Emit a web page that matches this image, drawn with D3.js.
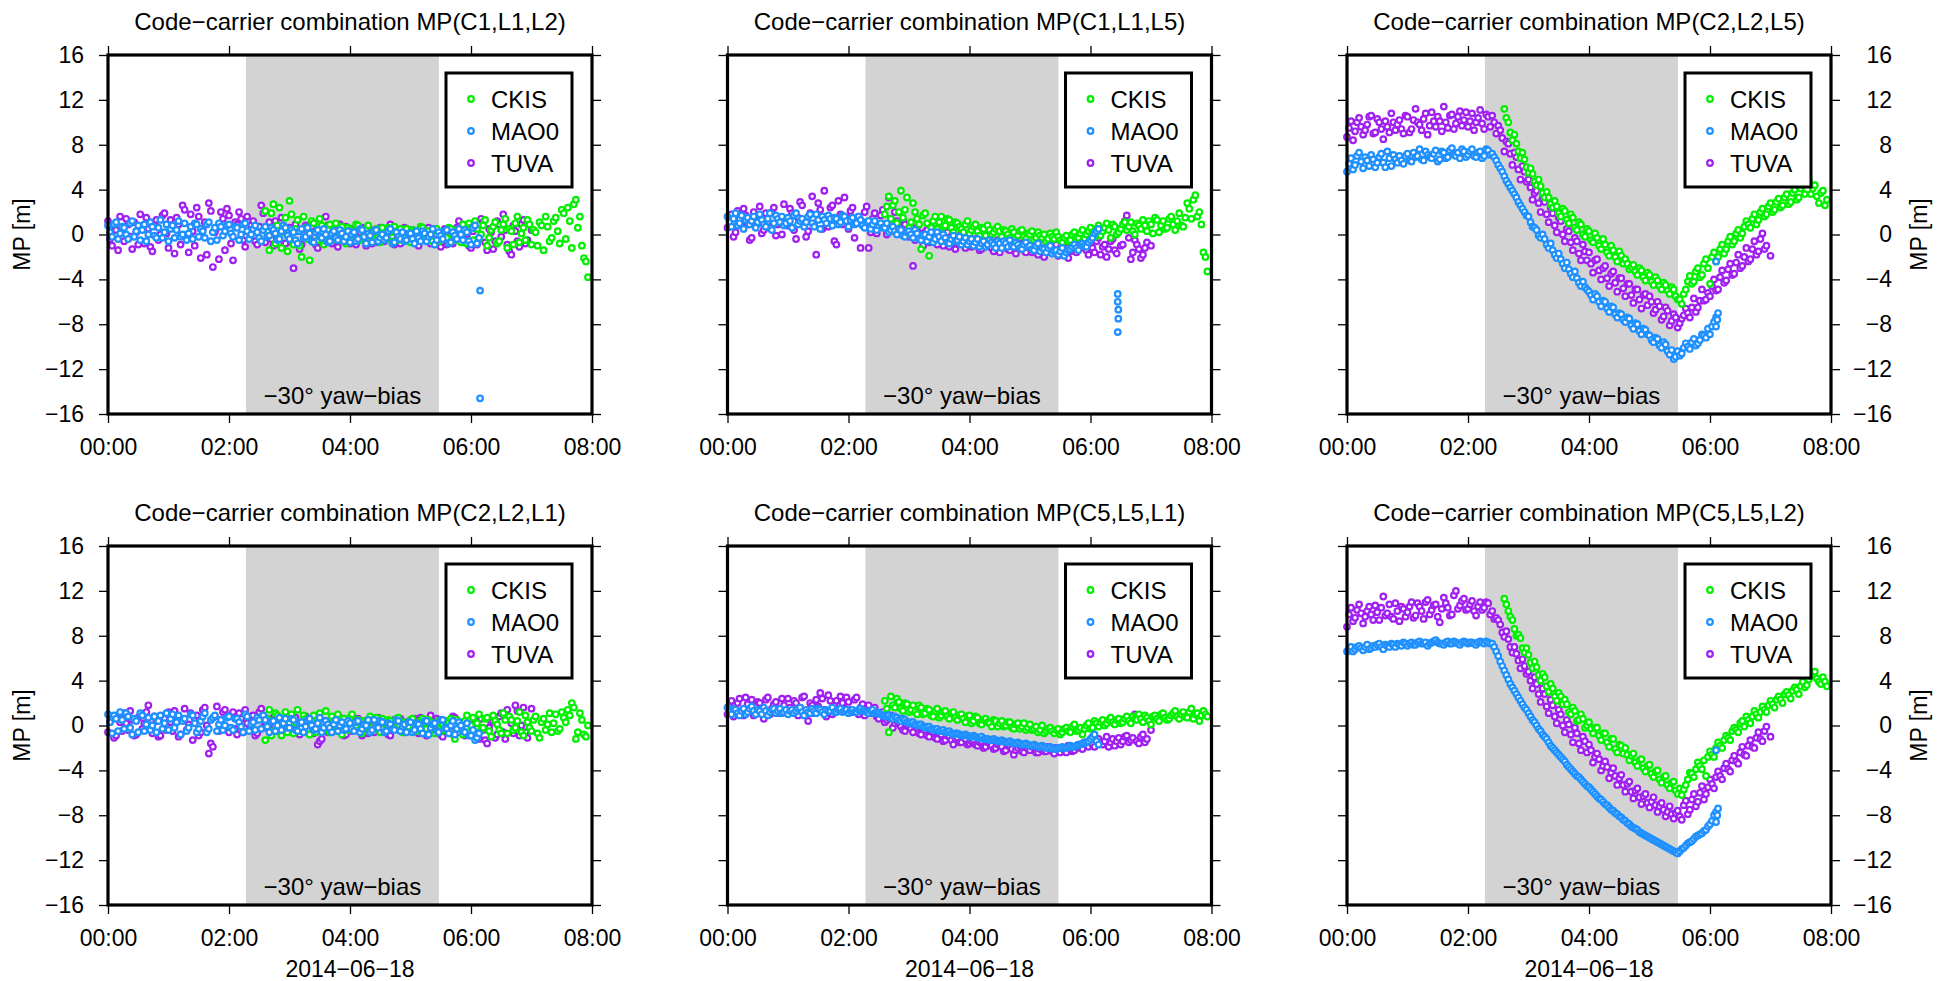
<!DOCTYPE html>
<html>
<head>
<meta charset="utf-8">
<script src="https://cdn.jsdelivr.net/npm/d3@7"></script>
<style>
  body { margin: 0; background: #fff; }
  svg text { font-family: "Liberation Sans", Arial, Helvetica, sans-serif; fill: #000; }
</style>
</head>
<body>
<svg id="chart" width="1945" height="981"></svg>
<script>
const stations = ["CKIS", "MAO0", "TUVA"];
const stationColors = ["#00f000", "#1e90ff", "#a020f0"];
const combos = ["MP(C1,L1,L2)", "MP(C1,L1,L5)", "MP(C2,L2,L5)", "MP(C2,L2,L1)", "MP(C5,L5,L1)", "MP(C5,L5,L2)"];
const stepMinutes = 4;      // spacing inside each array
const halfStepMinutes = 2;  // the "b" arrays sit between the "a" epochs
const ckisStartHour = 2.6;
const mao0StartHour = 0;
const tuvaStartHour = 0;
const yawBiasHours = [2.28, 5.47];
const yTicks = [-16, -12, -8, -4, 0, 4, 8, 12, 16];
const xTickHours = [0, 2, 4, 6, 8];
const dateLabel = "2014\u221206\u221218";

// MP values in metres. "a": epochs start + 4 min * i, "b": start + 2 min + 4 min * i
// --- MP(C1,L1,L2)
const ckis_C1L1L2_a = [2.1,-1.4,2.7,0.8,-1.2,1.5,3.0,-0.9,1.3,-2.0,0.6,-2.3,1.0,-0.5,0.8,
  -0.6,0.9,0.2,-0.4,0.7,-0.8,0.4,0.0,0.8,-0.3,0.5,-0.6,0.3,-0.2,0.6,
  -0.4,0.2,0.7,-0.5,0.1,0.5,-0.7,0.3,-0.2,0.6,-0.4,0.0,0.4,-0.6,0.2,
  -0.3,0.5,-0.5,0.3,0.9,-0.8,0.6,1.2,-0.4,0.8,-1.0,0.4,1.1,-0.6,0.9,
  -1.2,0.3,1.0,-0.7,0.6,1.3,-0.9,0.2,1.1,-1.4,0.7,-0.3,1.5,-0.8,1.9,
  2.4,-1.2,3.1,1.6,-2.1,-3.8];
const ckis_C1L1L2_b = [0.3,1.9,-0.8,2.4,0.2,-1.5,1.8,0.5,-1.0,1.6,-0.4,1.2,0.2,1.4,-0.9,
  0.4,-0.5,1.0,0.1,-0.6,0.6,-0.2,0.9,-0.5,0.3,0.8,-0.1,0.5,-0.7,0.1,
  0.6,-0.6,0.3,0.5,-0.3,0.0,0.4,-0.5,0.7,-0.1,0.3,-0.6,0.5,0.1,-0.4,
  0.6,0.0,0.4,-0.7,0.2,1.0,-0.5,0.5,0.0,1.3,-0.3,0.7,-0.8,0.4,1.4,
  0.5,-0.9,1.6,0.1,-0.5,0.9,0.4,-1.0,0.8,1.6,-0.6,1.2,0.3,2.2,-0.4,
  1.2,2.7,0.6,-1.0,-2.4];
const mao0_C1L1L2_a = [0.8,-0.2,1.1,0.1,0.6,-0.4,1.2,0.3,-0.5,0.9,0.0,0.7,-0.3,1.3,0.2,
  -0.6,0.8,0.4,-0.2,1.0,0.1,-0.4,0.9,0.5,-0.3,1.1,0.2,-0.5,0.7,0.3,
  0.9,-0.2,0.6,0.0,1.0,-0.4,0.5,0.2,-0.6,0.7,-0.1,0.4,-0.5,0.3,0.6,
  -0.4,0.2,-0.8,0.5,-0.2,0.1,-0.7,0.4,-0.3,0.0,-0.6,0.3,-0.5,0.1,-0.2,
  -0.7,0.2,-0.4,0.4,-0.8,-0.1,0.3,-0.6,0.0,-0.3,0.5,-0.7,-0.2,0.2,-0.5,
  0.1,-0.8,-0.3,0.3,-0.6,0.0,-0.9,0.2,-0.4,0.4,-0.7,-0.1,0.5,-0.5,0.2,
  -0.9,0.8,-0.3];
const mao0_C1L1L2_b = [0.2,0.9,-0.4,0.7,0.0,1.0,-0.2,0.8,0.4,-0.6,1.1,-0.1,0.6,-0.3,0.9,
  0.5,-0.3,1.2,0.0,-0.5,0.7,1.0,-0.2,0.3,0.9,-0.6,0.6,1.0,-0.1,0.8,
  0.1,0.7,-0.5,0.9,0.3,0.0,0.8,-0.3,0.4,-0.2,0.6,0.1,-0.4,0.8,-0.1,
  0.4,-0.5,0.3,-0.3,0.6,-0.6,0.2,-0.2,0.5,-0.7,0.1,-0.3,0.4,-0.6,0.3,
  0.0,-0.6,0.5,-0.2,0.1,-0.7,0.4,-0.3,-0.5,0.3,-0.8,0.2,-0.4,-0.6,0.1,
  -0.4,0.3,-0.6,0.1,-0.2,0.5,-0.5,-0.1,0.3,-0.8,0.2,-0.4,0.0,0.4,-0.6,
  0.6,-0.8];
const tuva_C1L1L2_a = [1.2,-1.0,0.4,1.6,-0.6,0.9,-1.3,0.2,1.8,-0.8,0.5,-1.5,1.3,0.0,1.9,
  -1.2,0.7,1.5,-0.9,2.2,-1.6,0.3,2.4,-2.1,1.1,2.8,-2.9,0.6,2.0,-1.4,
  1.7,-2.3,0.9,1.4,-1.1,0.2,1.2,-0.9,2.6,-0.7,1.1,-1.0,0.4,1.5,-0.8,
  0.6,-3.0,0.3,-0.9,0.8,-0.4,1.0,-1.2,0.2,1.6,-0.6,0.5,-1.1,0.1,0.7,
  -0.8,0.3,-0.5,0.6,-1.0,0.0,0.4,-0.7,0.2,-0.3,0.9,-0.9,0.1,-0.4,0.5,
  -0.6,0.2,-1.0,0.4,-0.2,-0.8,0.5,-0.5,0.1,-0.9,0.3,-0.4,1.2,-0.7,0.0,
  -1.2,0.6,-0.3,1.1,-1.4,0.2,-0.6,0.9,1.8,-0.9,-1.8,0.3,-1.1,1.3,-0.5,
  0.4];
const tuva_C1L1L2_b = [-0.4,0.8,-1.4,0.3,1.4,-0.2,1.1,-0.9,0.6,1.5,-1.1,0.9,-0.5,1.7,0.1,
  1.3,-1.7,0.9,2.6,-0.3,1.8,-1.0,1.6,0.5,-1.8,2.1,0.2,-2.2,1.4,2.3,
  -0.8,1.1,2.0,-0.5,1.6,0.8,-0.6,0.7,1.9,0.3,-0.4,1.2,-0.9,0.6,0.2,
  -0.7,0.9,-1.3,0.5,-0.2,0.7,-0.9,0.4,-0.5,0.8,-0.8,0.3,0.9,-0.5,-0.1,
  0.5,-0.9,0.2,-0.3,0.7,-0.8,0.3,0.6,-0.6,0.4,-0.2,0.3,-0.8,0.6,-0.3,
  0.4,-0.7,0.3,-0.5,0.6,-0.3,0.0,-1.1,0.5,-0.2,-0.8,0.6,-0.3,0.5,-1.0,
  0.3,-0.9,1.4,-0.7,0.5,-1.3,1.2,-0.2,0.4,-1.5,0.8,-0.6,0.9,-0.8];

// --- MP(C1,L1,L5)
const ckis_C1L1L5_a = [1.8,3.4,2.6,1.0,3.9,2.2,0.6,2.8,1.4,-1.3,1.9,-1.9,1.2,0.5,1.6,
  0.8,1.3,0.2,1.0,0.5,0.9,0.1,0.7,0.3,0.6,-0.1,0.4,0.2,0.7,-0.2,
  0.3,-0.3,0.2,-0.1,0.4,-0.4,0.0,-0.5,0.2,-0.3,-0.6,0.1,-0.4,-0.2,-0.7,
  -0.1,-0.5,0.2,-0.3,0.4,0.0,0.6,-0.2,0.8,0.3,1.0,-0.3,0.7,0.2,0.9,
  0.4,1.1,0.0,0.8,1.3,0.3,0.9,1.5,0.2,1.2,0.6,1.6,0.4,1.9,0.7,
  2.8,1.4,3.5,2.0,-1.6,-3.3];
const ckis_C1L1L5_b = [2.5,1.4,3.0,2.0,1.5,3.3,1.1,2.0,0.9,1.7,1.0,0.6,1.6,1.1,0.7,
  1.4,0.6,1.1,0.7,0.2,1.2,0.4,0.9,-0.1,0.5,0.8,0.0,0.5,0.3,0.4,
  0.0,0.5,-0.4,0.3,-0.2,0.1,0.3,-0.3,-0.1,0.0,-0.4,-0.2,0.2,-0.5,-0.3,
  -0.6,0.0,-0.2,0.1,-0.4,0.3,0.2,0.5,-0.1,0.6,0.4,0.9,0.0,0.5,1.1,
  0.7,0.3,1.0,0.5,0.8,1.2,0.1,1.3,0.8,0.5,1.4,0.9,1.2,0.8,1.5,
  2.3,3.1,1.6,0.9,-2.0];
const mao0_C1L1L5_a = [1.6,0.7,1.9,1.0,0.5,1.5,1.2,0.6,1.8,0.9,1.4,0.4,1.7,1.1,0.8,
  1.5,0.6,1.9,1.2,0.7,1.6,1.0,1.8,0.5,1.3,1.7,0.8,1.4,1.1,1.6,
  0.7,1.5,1.0,1.3,0.6,1.2,0.9,0.4,1.0,0.6,0.2,0.7,0.0,0.4,-0.2,
  0.3,-0.3,0.1,-0.5,0.0,-0.2,-0.7,0.2,-0.6,-0.3,-0.8,-0.1,-0.5,-0.9,-0.3,
  -0.6,-1.0,-0.4,-0.8,-1.1,-0.5,-0.9,-0.6,-1.2,-0.8,-0.5,-1.1,-0.9,-1.3,-0.7,
  -1.0,-1.4,-0.8,-1.2,-1.6,-1.0,-1.5,-1.8,-1.2,-1.6,-1.3,-0.9,-1.4,-0.8,-1.1,
  -0.5,0.1,0.5];
const mao0_C1L1L5_b = [1.1,1.4,0.8,1.7,1.3,0.9,1.6,1.1,1.3,0.7,1.9,1.0,1.4,1.6,1.0,
  1.2,1.7,0.9,1.4,1.1,1.8,0.7,1.3,1.6,1.0,1.4,1.5,0.9,1.7,1.2,
  1.3,0.9,1.6,0.8,1.1,0.5,1.2,0.8,0.6,1.0,0.4,0.3,0.5,-0.1,0.2,
  0.0,0.4,-0.4,-0.1,-0.6,0.2,-0.4,-0.2,0.0,-0.7,-0.4,-0.6,-0.2,-0.6,-0.9,
  -0.4,-0.7,-1.1,-0.6,-0.9,-0.7,-1.2,-0.8,-0.6,-1.1,-1.0,-0.7,-1.2,-0.9,-1.1,
  -1.3,-1.0,-1.5,-1.3,-1.2,-1.7,-1.4,-1.5,-1.9,-1.4,-1.1,-1.2,-0.9,-1.0,-0.7,
  -0.3,0.3];
const tuva_C1L1L5_a = [0.6,1.8,0.2,1.4,2.3,0.9,-0.3,1.6,2.5,0.4,1.1,2.0,-0.1,1.5,2.7,
  0.8,1.9,-0.4,2.9,1.2,0.3,3.4,-1.8,2.2,3.9,0.7,2.6,-0.9,1.8,3.3,
  0.5,2.4,1.0,-1.2,2.0,-1.2,1.4,0.1,1.7,0.9,3.3,0.3,1.2,0.5,0.9,
  -0.2,-2.8,0.6,-0.4,0.2,-0.7,0.5,-0.9,0.0,-0.5,-1.1,-0.2,-0.8,0.1,-1.2,
  -0.6,-1.0,-0.3,-1.3,-0.7,-0.9,-1.5,-0.5,-1.1,-0.8,-1.4,-0.6,-1.2,-0.9,-1.6,
  -1.0,-1.4,-1.8,-0.9,-1.3,-1.6,-1.1,-1.9,-1.2,-0.7,-1.5,-0.4,-1.0,0.3,-1.4,
  -0.8,-1.6,-0.3,-1.1,-2.0,-0.6,-1.4,0.5,-0.9,1.7,-2.2,-0.5,-1.3,-1.8,-0.7,
  -1.0];
const tuva_C1L1L5_b = [1.3,-0.2,2.1,0.8,1.7,-0.5,2.0,1.0,0.1,1.9,0.6,2.4,0.9,0.0,1.2,
  2.3,0.4,1.5,2.6,-0.2,1.9,1.0,2.8,0.5,1.6,2.4,-0.6,3.0,0.9,1.5,
  2.1,-0.3,1.6,0.9,2.5,0.2,1.9,0.8,2.2,0.0,1.4,2.0,0.7,1.3,-0.1,
  0.7,-0.5,0.1,-1.0,0.4,-0.6,0.0,-0.3,-1.0,0.2,-0.7,-1.3,-0.4,-0.9,-0.2,
  -1.1,-0.5,-1.4,-0.8,-0.4,-1.2,-0.9,-1.6,-0.7,-1.3,-1.0,-1.7,-0.8,-1.4,-1.1,
  -1.6,-1.1,-1.4,-2.0,-1.2,-1.5,-0.9,-1.7,-1.4,-2.1,-1.1,-1.6,-0.8,-1.2,-1.8,
  -1.2,-0.6,-1.8,-0.9,-1.3,-0.4,-1.7,-1.0,1.2,-0.3,-1.6,-0.9,-2.1,-1.2];

// --- MP(C2,L2,L5)
const ckis_C2L2L5_a = [11.2,10.0,8.4,8.1,6.8,6.7,5.5,5.4,4.4,4.3,3.3,3.3,2.4,2.5,1.6,
  2.1,1.0,1.5,0.4,0.9,-0.2,0.3,-0.7,-0.3,-1.3,-0.9,-1.9,-1.4,-2.4,-1.9,
  -2.2,-3.1,-2.7,-3.6,-3.2,-4.1,-3.6,-4.5,-4.1,-4.9,-4.5,-5.3,-4.9,-5.8,-6.2,
  -4.9,-3.7,-4.2,-3.0,-3.6,-2.2,-4.4,-1.6,-2.0,-0.9,-1.3,-0.2,-0.6,0.4,0.1,
  1.2,0.6,1.8,1.3,2.3,1.8,2.8,2.2,3.2,2.6,3.6,2.9,4.0,3.3,4.4,
  5.3,3.6,4.4,2.8,3.9,3.1];
const ckis_C2L2L5_b = [10.4,9.1,8.9,7.4,7.3,6.0,5.9,4.7,4.9,3.7,3.8,2.7,3.0,1.9,2.3,
  1.3,1.8,0.6,1.1,0.0,0.5,-0.5,0.1,-1.0,-0.4,-1.6,-1.0,-2.0,-1.5,-2.6,
  -2.6,-2.9,-3.3,-3.0,-3.8,-3.4,-4.2,-3.8,-4.6,-4.3,-5.0,-4.7,-5.5,-5.8,-5.3,
  -4.2,-4.4,-3.3,-3.8,-2.6,-3.0,-2.0,-2.4,-1.3,-1.7,-0.6,-0.9,0.1,-0.3,0.7,
  0.9,1.4,0.9,2.0,1.6,2.5,2.0,2.9,2.4,3.3,2.7,3.7,3.1,4.1,3.6,
  4.8,4.1,3.4,3.7,2.6];
const mao0_C2L2L5_a = [5.6,6.8,6.2,7.3,5.9,6.6,7.1,6.0,6.9,6.4,7.4,6.1,6.7,7.0,6.3,
  7.2,6.5,6.9,7.6,6.6,7.1,6.8,7.5,6.7,7.3,6.9,7.7,7.0,6.8,7.4,
  7.1,7.6,6.9,7.4,7.0,7.5,7.2,6.6,5.9,5.2,4.5,3.9,3.3,2.6,2.0,
  1.6,0.7,0.4,-0.3,-0.4,-1.2,-1.4,-2.1,-2.2,-3.0,-3.1,-3.8,-3.9,-4.6,-4.7,
  -5.1,-5.8,-5.5,-6.4,-6.0,-6.9,-6.5,-7.4,-7.1,-7.8,-7.5,-8.4,-8.0,-8.9,-8.5,
  -9.0,-9.6,-9.3,-10.1,-9.8,-10.7,-11.1,-10.4,-10.6,-9.7,-10.2,-9.3,-9.7,-8.9,-9.2,
  -8.9,-7.8,-7.0];
const mao0_C2L2L5_b = [6.3,5.8,7.0,6.5,6.9,6.1,6.7,6.4,7.2,6.0,6.8,7.1,6.4,6.6,7.0,
  6.6,7.3,7.0,6.7,7.4,6.9,7.2,6.5,7.4,6.8,7.5,7.1,7.3,7.6,6.9,
  7.4,7.0,7.3,6.8,7.6,7.1,6.9,6.2,5.6,4.8,4.2,3.6,2.9,2.3,1.7,
  1.1,0.6,-0.1,0.0,-0.9,-0.8,-1.8,-1.7,-2.6,-2.5,-3.5,-3.3,-4.3,-4.2,-4.9,
  -5.4,-5.3,-6.0,-5.9,-6.6,-6.4,-7.1,-7.0,-7.6,-7.4,-8.1,-7.9,-8.6,-8.4,-8.9,
  -9.4,-9.2,-9.9,-9.6,-10.4,-10.3,-10.9,-10.8,-10.1,-10.0,-9.6,-9.9,-9.4,-9.0,-8.4,
  -8.2,-7.4];
const tuva_C2L2L5_a = [8.7,10.1,9.2,10.4,8.9,9.8,10.6,9.1,10.0,8.5,9.6,10.8,9.3,10.2,9.0,
  10.5,9.4,11.2,9.8,10.3,8.9,10.9,9.6,10.1,11.4,9.5,10.7,9.9,11.0,10.2,
  9.6,10.8,10.0,11.1,9.4,10.5,10.6,9.0,9.3,7.4,8.1,6.2,6.9,4.9,5.6,
  4.9,3.1,3.9,2.0,2.9,1.1,1.9,0.2,1.2,-0.6,0.3,-1.4,-0.6,-2.3,-1.5,
  -1.6,-3.4,-2.2,-4.0,-2.8,-4.6,-3.3,-5.1,-3.9,-5.5,-4.4,-6.1,-4.9,-6.6,-5.3,
  -5.5,-7.0,-6.0,-7.6,-6.5,-8.1,-7.1,-8.3,-7.5,-6.6,-7.4,-5.7,-6.5,-4.9,-5.8,
  -5.5,-4.0,-4.9,-3.2,-4.1,-2.6,-3.5,-1.8,-2.8,-1.2,-2.2,-0.6,-1.5,0.1,-1.0,
  -1.9];
const tuva_C2L2L5_b = [9.5,8.4,10.0,9.6,9.3,10.5,9.0,10.3,9.4,10.1,9.1,10.0,9.8,9.4,10.6,
  9.1,10.2,10.0,9.3,10.8,9.7,10.1,10.5,9.2,10.0,10.6,9.4,10.5,9.7,10.9,
  10.1,9.3,10.4,9.9,10.7,9.6,10.0,9.7,8.6,8.3,7.2,7.3,5.8,6.1,4.7,
  4.2,3.7,2.8,3.2,1.8,2.4,0.8,1.5,0.0,0.5,-0.7,-0.3,-1.7,-0.9,-2.3,
  -2.6,-2.3,-3.2,-3.0,-3.9,-3.5,-4.3,-3.9,-4.8,-4.4,-5.4,-4.9,-5.8,-5.4,-6.3,
  -6.0,-6.7,-6.4,-7.3,-6.8,-7.7,-7.4,-7.9,-7.2,-7.0,-6.5,-6.9,-5.9,-5.9,-5.2,
  -4.6,-5.0,-3.8,-4.3,-3.1,-3.6,-2.5,-3.0,-2.0,-2.4,-1.3,-1.8,-0.4,-1.3];

// --- MP(C2,L2,L1)
const ckis_C2L2L1_a = [-1.3,1.4,-0.5,0.9,-0.9,1.2,0.2,-0.7,1.4,-0.2,0.6,-0.8,0.9,0.0,-0.4,
  1.3,-0.6,0.4,1.0,-0.8,0.2,0.7,-0.4,0.5,-0.7,0.3,0.8,-0.3,0.1,0.6,
  -0.5,0.4,-0.2,0.7,-0.6,0.2,0.5,-0.4,0.1,0.6,-0.3,0.3,-0.7,0.4,0.0,
  -0.5,0.6,-1.2,0.2,-0.8,0.9,0.0,-0.6,1.0,-0.2,0.7,-1.0,0.4,-0.4,1.1,
  -0.7,0.5,-0.2,1.2,-0.9,0.3,-0.5,0.8,-1.1,0.6,0.1,-0.6,1.0,-0.3,0.7,
  1.4,2.0,-1.2,1.1,-0.8,0.0];
const ckis_C2L2L1_b = [0.6,-0.9,1.1,-0.2,0.5,-0.6,1.0,0.3,-0.5,0.9,-0.3,0.5,-0.6,1.1,0.2,
  -0.3,0.8,-0.5,0.3,0.6,-0.4,1.0,0.0,-0.5,0.4,-0.2,0.5,0.7,-0.6,0.2,
  0.5,-0.2,0.6,-0.4,0.3,-0.1,0.6,-0.5,0.4,-0.2,0.5,-0.4,0.2,-0.5,0.4,
  0.3,-0.8,0.5,-0.3,0.4,-0.6,0.7,0.2,-0.4,0.6,-0.5,0.9,0.1,-0.7,0.5,
  0.8,-0.4,0.4,-0.6,0.9,-0.2,0.5,-0.7,0.3,-0.4,1.1,0.2,-0.5,1.2,0.3,
  0.9,1.6,-0.6,0.5,-1.0];
const mao0_C2L2L1_a = [1.0,-0.7,0.6,1.2,-0.3,0.8,-0.8,0.4,1.1,-0.5,0.7,0.0,-0.6,0.9,0.2,
  -0.4,1.0,0.3,-0.8,0.6,-0.2,0.9,-0.6,0.4,1.1,-0.3,0.7,-0.5,0.5,0.0,
  0.8,-0.4,0.6,-0.1,1.0,-0.5,0.3,0.7,-0.3,0.5,-0.6,0.4,0.0,-0.4,0.6,
  -0.2,0.5,-0.5,0.3,-0.1,0.6,-0.4,0.2,-0.6,0.4,-0.2,0.1,-0.5,0.3,-0.3,
  0.2,-0.5,0.4,-0.3,0.0,-0.6,0.5,-0.2,0.3,-0.5,0.1,-0.4,0.4,-0.1,-0.6,
  0.3,-0.4,0.1,-0.7,0.4,-0.2,0.2,-0.6,0.5,-0.3,0.0,-0.8,0.3,-0.5,0.2,
  -0.9,-1.3,-0.7];
const mao0_C2L2L1_b = [0.3,0.9,-0.5,0.5,1.1,-0.2,0.6,-0.6,0.9,0.1,-0.4,0.8,0.4,-0.3,1.1,
  0.6,-0.2,0.9,0.4,-0.5,1.0,0.2,-0.3,0.8,-0.6,0.5,0.9,0.1,-0.4,0.7,
  -0.2,0.6,0.3,-0.6,0.8,0.1,-0.4,0.5,0.9,-0.1,0.3,-0.5,0.7,0.2,-0.2,
  0.6,-0.4,0.2,-0.6,0.5,0.0,-0.3,0.7,-0.2,0.1,-0.6,0.5,0.0,-0.4,0.4,
  -0.3,0.3,-0.6,0.1,0.5,-0.4,-0.1,0.4,-0.6,0.2,-0.3,0.5,-0.5,0.1,0.3,
  -0.6,0.2,-0.3,0.4,-0.8,0.1,-0.5,0.5,-0.2,-0.7,0.4,-0.3,0.0,-0.6,-0.9,
  -0.4,-1.1];
const tuva_C2L2L1_a = [-0.6,0.7,-0.9,0.3,1.1,-0.4,0.5,-0.8,0.9,0.2,1.8,-0.7,0.4,-0.9,0.6,
  1.2,-0.5,0.8,-0.8,1.5,0.1,-1.3,0.9,-0.6,1.6,-2.5,-1.9,1.7,0.5,1.4,
  -0.6,1.2,-0.8,0.6,1.4,-0.4,0.9,-0.7,1.5,0.3,-0.2,0.7,-0.5,0.4,-0.3,
  0.5,-0.6,0.2,-0.4,0.8,0.0,-0.7,-1.7,-1.2,0.4,-0.3,0.6,-0.5,0.1,-0.8,
  0.3,-0.4,0.6,-0.9,-0.2,0.4,-0.6,0.7,-0.3,0.2,-0.9,0.5,0.0,-0.5,0.3,
  -0.4,0.6,-0.7,0.2,-0.9,0.9,-0.3,0.4,-1.0,0.1,-0.5,0.7,-0.6,0.3,-0.2,
  -0.8,0.5,-1.2,-0.4,-1.6,0.3,-1.1,0.8,-0.6,1.4,0.2,1.8,-0.9,1.6,-1.1,
  1.5];
const tuva_C2L2L1_b = [0.4,-1.1,0.6,-0.5,0.2,1.3,-0.9,0.7,-0.3,1.2,0.0,0.8,-1.0,0.5,-0.4,
  0.3,1.3,-1.0,0.5,-0.4,1.1,0.6,-0.9,1.4,0.0,-1.6,0.8,-0.5,1.2,-0.2,
  0.9,-0.3,1.1,-0.6,0.2,0.8,-0.9,1.2,-0.2,0.6,-0.7,0.9,0.1,-0.6,0.5,
  -0.3,0.7,-0.8,0.3,-0.2,0.5,-0.4,-1.4,0.2,-0.6,0.4,-0.2,0.7,-0.9,0.2,
  -0.5,0.5,-0.2,0.3,-0.7,0.6,-0.1,-0.5,0.4,-0.8,0.3,-0.3,0.6,-0.6,0.0,
  0.5,-0.3,0.7,-0.6,0.3,-0.5,0.6,-0.8,0.4,-0.2,0.8,-0.4,0.1,-0.9,0.5,
  0.1,-1.0,0.6,-1.3,-0.2,0.4,-0.8,1.1,-1.2,0.6,-0.7,1.3,0.0,-0.6];

// --- MP(C5,L5,L1)
const ckis_C5L5L1_a = [2.2,-0.6,1.8,2.4,1.5,2.0,1.2,1.8,1.0,1.6,1.1,1.4,0.8,1.5,0.9,
  1.3,0.6,1.2,0.5,1.0,0.3,0.9,0.4,0.7,0.1,0.6,0.2,0.5,-0.1,0.4,
  0.0,0.3,-0.3,0.2,-0.1,-0.4,0.1,-0.3,-0.6,0.0,-0.5,-0.2,-0.7,-0.3,-0.6,
  -0.2,-0.6,0.1,-0.4,-0.8,0.0,-0.3,0.4,-0.1,0.5,0.2,0.7,0.1,0.6,0.3,
  0.8,0.2,0.6,1.0,0.3,0.7,0.1,0.9,0.4,1.1,0.5,0.9,1.3,0.6,1.2,
  0.7,1.5,1.0,0.4,1.3,0.8];
const ckis_C5L5L1_b = [1.5,2.6,1.6,2.1,1.3,1.9,1.4,1.2,1.8,1.0,1.5,0.9,1.3,0.7,1.2,
  0.8,1.1,0.7,0.9,0.6,0.8,0.2,0.8,0.2,0.5,0.3,-0.1,0.4,0.2,-0.1,
  0.3,-0.2,0.1,-0.3,0.2,-0.2,-0.4,-0.1,-0.4,-0.7,-0.3,-0.5,-0.4,-0.8,-0.3,
  -0.5,-0.1,-0.5,-0.2,-0.3,0.2,-0.2,0.2,0.3,0.0,0.5,0.3,0.5,0.2,0.6,
  0.4,0.8,0.5,0.6,0.9,0.4,0.8,0.6,1.0,0.7,0.6,1.1,0.8,1.0,0.8,
  1.2,0.6,1.1,0.9,1.0];
const mao0_C5L5L1_a = [1.6,1.0,1.4,0.9,1.5,1.2,1.7,1.0,1.3,1.6,0.9,1.4,1.1,1.5,1.2,
  1.0,1.4,1.3,1.6,0.9,1.2,1.5,1.1,1.4,1.0,1.3,1.6,1.2,1.5,1.3,
  1.1,1.4,1.2,1.5,1.3,1.1,1.4,1.2,1.0,0.8,0.9,0.6,0.7,0.4,0.5,
  0.2,0.3,0.0,0.1,-0.2,-0.1,-0.4,-0.3,-0.5,-0.6,-0.5,-0.8,-0.7,-0.9,-0.8,
  -1.0,-0.9,-1.1,-1.0,-1.2,-1.3,-1.2,-1.4,-1.3,-1.5,-1.4,-1.6,-1.5,-1.7,-1.6,
  -1.8,-1.7,-1.9,-1.8,-2.0,-1.9,-2.1,-2.0,-1.9,-2.0,-1.8,-1.9,-1.7,-1.6,-1.5,
  -1.2,-0.8,-1.7];
const mao0_C5L5L1_b = [1.2,1.5,1.1,1.3,1.0,1.5,1.3,1.4,1.0,1.3,1.2,1.5,1.3,1.1,1.4,
  1.3,1.1,1.5,1.2,1.4,1.1,1.3,1.5,1.2,1.4,1.3,1.2,1.4,1.2,1.4,
  1.3,1.2,1.4,1.3,1.2,1.3,1.1,1.1,0.9,0.9,0.7,0.8,0.5,0.6,0.3,
  0.3,0.1,0.1,-0.1,-0.1,-0.3,-0.3,-0.5,-0.4,-0.6,-0.7,-0.7,-0.8,-0.9,-0.9,
  -1.0,-1.0,-1.1,-1.2,-1.2,-1.3,-1.3,-1.4,-1.4,-1.5,-1.5,-1.6,-1.6,-1.7,-1.7,
  -1.8,-1.8,-1.9,-1.9,-2.0,-2.0,-2.1,-2.0,-2.0,-1.9,-1.9,-1.8,-1.7,-1.6,-1.4,
  -1.0,-1.4];
const tuva_C5L5L1_a = [1.0,2.2,1.4,2.4,0.9,1.9,2.3,1.2,2.0,0.6,2.5,1.5,2.1,1.1,1.8,
  2.4,1.3,2.0,1.6,2.6,0.4,1.8,2.3,2.9,1.4,2.7,1.0,2.2,2.6,1.5,
  2.1,1.2,2.5,1.6,0.9,1.8,1.3,0.8,1.1,0.3,0.7,-0.2,0.4,-0.1,-0.5,
  0.1,-0.6,-0.2,-0.8,-0.4,-1.0,-0.6,-1.2,-0.8,-1.3,-1.0,-1.7,-1.1,-1.5,-1.2,
  -1.6,-1.3,-1.8,-1.4,-1.9,-1.6,-2.1,-1.7,-1.9,-2.2,-1.8,-2.6,-2.0,-2.3,-1.9,
  -2.2,-1.9,-2.4,-2.0,-2.3,-2.1,-2.5,-2.2,-2.0,-2.4,-1.9,-2.2,-1.7,-2.1,-1.6,
  -1.4,-1.9,-1.2,-1.7,-1.0,-1.5,-1.8,-1.1,-1.4,-0.9,-1.3,1.0,-1.6,-0.8,-1.2,
  -0.4];
const tuva_C5L5L1_b = [1.7,0.8,2.0,1.2,2.5,1.4,0.9,2.1,1.5,2.3,1.0,1.9,1.3,2.4,1.2,
  1.6,2.2,0.9,2.5,1.3,2.0,1.1,1.7,2.4,0.8,2.2,1.8,1.3,2.0,2.5,
  1.4,2.3,1.0,1.9,1.5,1.1,1.6,0.6,1.2,0.5,0.9,0.2,0.6,-0.4,0.2,
  -0.3,-0.1,-0.7,-0.3,-0.9,-0.5,-1.1,-0.7,-1.4,-0.9,-1.3,-1.2,-1.5,-1.0,-1.7,
  -1.4,-1.7,-1.5,-2.0,-1.5,-1.8,-2.0,-1.6,-2.3,-1.8,-2.1,-2.2,-1.8,-2.4,-2.1,
  -1.9,-2.4,-2.1,-2.3,-1.9,-2.3,-2.0,-2.4,-2.2,-1.8,-2.3,-1.9,-2.0,-1.5,-1.9,
  -1.7,-1.2,-1.6,-1.4,-1.9,-1.2,-1.4,-1.7,-1.0,-1.5,-1.1,-1.4,-1.0,-1.5];

// --- MP(C5,L5,L2)
const ckis_C5L5L2_a = [11.3,10.2,9.4,8.0,7.8,6.5,6.3,5.1,5.2,4.0,4.3,3.0,3.3,2.2,2.6,
  2.3,1.2,1.6,0.4,1.0,-0.2,0.3,-0.7,-0.2,-1.3,-0.7,-1.9,-1.2,-2.4,-1.8,
  -2.0,-3.1,-2.5,-3.6,-3.0,-4.1,-3.5,-4.6,-4.0,-5.1,-4.5,-5.6,-5.0,-6.1,-6.2,
  -5.3,-4.2,-4.6,-3.3,-3.9,-4.5,-2.3,-2.8,-1.5,-2.0,-0.9,-1.3,-0.2,-0.6,0.4,
  0.8,0.2,1.3,0.7,1.7,1.2,2.2,1.6,2.6,2.0,3.0,2.4,3.4,2.8,3.9,
  3.6,4.4,4.8,3.9,4.3,3.5];
const ckis_C5L5L2_b = [10.8,9.7,8.6,8.1,6.9,6.9,5.6,5.7,4.5,4.6,3.5,3.7,2.6,2.9,1.9,
  1.9,1.0,1.3,0.5,0.6,0.0,-0.3,-0.2,-0.9,-0.7,-1.5,-1.2,-2.1,-1.7,-2.5,
  -2.6,-2.7,-3.3,-3.1,-3.8,-3.6,-4.3,-4.1,-4.8,-4.6,-5.3,-5.1,-5.8,-5.6,-5.7,
  -4.8,-4.3,-3.9,-3.6,-3.1,-2.8,-2.6,-2.0,-1.8,-1.3,-1.1,-0.5,-0.4,0.2,-0.1,
  0.5,0.8,1.0,1.2,1.4,1.8,1.9,2.3,2.3,2.8,2.7,3.1,3.2,3.5,3.4,
  4.1,4.6,4.2,3.7,3.9];
const mao0_C5L5L2_a = [6.6,7.0,6.8,7.1,6.7,7.2,6.9,7.0,7.3,6.8,7.1,7.3,7.0,7.2,7.4,
  7.1,7.4,7.2,7.5,7.3,7.1,7.4,7.6,7.3,7.2,7.5,7.3,7.4,7.2,7.5,
  7.3,7.4,7.2,7.5,7.3,7.4,7.3,6.6,5.7,4.9,4.1,3.4,2.8,2.2,1.6,
  1.1,0.5,0.0,-0.5,-1.0,-1.5,-2.0,-2.4,-2.8,-3.2,-3.7,-4.1,-4.5,-4.8,-5.2,
  -5.5,-5.9,-6.3,-6.6,-7.0,-7.3,-7.6,-7.9,-8.2,-8.5,-8.8,-9.1,-9.3,-9.6,-9.8,
  -10.0,-10.2,-10.4,-10.6,-10.8,-11.0,-11.2,-11.4,-11.0,-10.7,-10.4,-10.1,-9.8,-9.6,-9.3,
  -8.8,-8.0,-7.4];
const mao0_C5L5L2_b = [6.8,6.6,7.0,6.9,7.0,6.8,7.1,7.2,7.0,7.2,7.0,7.2,7.3,7.1,7.3,
  7.3,7.2,7.4,7.3,7.4,7.3,7.5,7.4,7.3,7.4,7.3,7.5,7.3,7.4,7.4,
  7.4,7.3,7.4,7.4,7.5,7.3,7.0,6.2,5.3,4.5,3.7,3.1,2.5,1.9,1.4,
  0.8,0.3,-0.3,-0.8,-1.2,-1.8,-2.2,-2.6,-3.0,-3.5,-3.9,-4.3,-4.6,-5.0,-5.4,
  -5.7,-6.1,-6.5,-6.8,-7.1,-7.5,-7.8,-8.1,-8.4,-8.7,-9.0,-9.2,-9.5,-9.7,-9.9,
  -10.1,-10.3,-10.5,-10.7,-10.9,-11.1,-11.3,-11.2,-10.9,-10.5,-10.3,-9.9,-9.7,-9.4,-9.0,
  -8.5,-7.7];
const tuva_C5L5L2_a = [8.8,10.5,9.6,10.8,9.1,10.2,9.9,10.7,9.4,11.5,10.0,9.7,10.9,9.3,10.4,
  10.1,11.0,9.8,10.6,9.5,11.2,10.3,10.8,9.2,11.4,10.5,9.9,12.0,10.7,11.3,
  10.4,11.1,9.8,11.0,10.5,10.9,10.2,9.6,9.0,7.9,7.7,6.5,6.4,5.1,5.3,
  4.8,3.3,3.7,2.1,2.8,1.1,1.8,0.2,1.0,-0.6,0.1,-1.5,-0.7,-2.2,-1.4,
  -1.7,-3.3,-2.5,-4.0,-3.2,-4.7,-3.8,-5.3,-4.4,-5.9,-5.0,-6.5,-5.6,-7.0,-6.1,
  -7.3,-6.4,-7.7,-6.9,-8.1,-7.2,-8.3,-7.6,-8.4,-6.7,-7.5,-6.1,-6.8,-5.4,-6.1,
  -4.8,-5.6,-4.1,-4.8,-3.4,-4.1,-2.7,-3.4,-1.9,-2.7,-1.3,-2.0,-0.6,-1.4,-0.1,
  -1.0];
const tuva_C5L5L2_b = [9.9,9.3,10.3,10.0,9.7,10.6,9.4,10.1,10.5,9.8,10.8,9.5,10.2,10.6,9.7,
  10.6,9.6,10.9,10.2,11.0,9.9,10.7,9.7,10.4,10.9,9.8,11.6,10.4,11.1,10.3,
  10.8,10.2,10.6,10.3,11.0,9.9,9.5,9.4,8.3,8.4,7.0,7.0,5.8,5.9,4.6,
  4.0,4.3,2.8,3.3,1.7,2.3,0.8,1.4,0.0,0.5,-0.8,-0.2,-1.6,-1.0,-2.4,
  -2.2,-2.8,-3.0,-3.6,-3.7,-4.2,-4.5,-4.7,-5.3,-5.2,-5.9,-5.8,-6.4,-6.3,-6.9,
  -6.8,-7.1,-7.2,-7.5,-7.7,-7.9,-7.8,-8.1,-7.1,-7.9,-6.6,-7.2,-6.0,-6.6,-5.5,
  -5.2,-4.6,-4.5,-3.8,-3.9,-3.1,-3.2,-2.4,-2.6,-1.8,-1.9,-1.1,-1.2,-0.5];

// isolated MAO0 epochs [hour, value]
const mao0Extra_C1L1L2 = [[6.15, -5.0], [6.15, -14.6]];
const mao0Extra_C1L1L5 = [[6.45, -5.3], [6.45, -6.0], [6.46, -6.7], [6.46, -7.5], [6.45, -8.7]];
const mao0Extra_C2L2L5 = [[6.1, -2.4], [6.1, -8.2], [6.12, -7.6]];
const mao0Extra_C2L2L1 = [];
const mao0Extra_C5L5L1 = [];
const mao0Extra_C5L5L2 = [[6.1, -2.2], [6.1, -8.6], [6.12, -8.0]];

const panelSeries = [
  [[ckis_C1L1L2_a, ckis_C1L1L2_b], [mao0_C1L1L2_a, mao0_C1L1L2_b], [tuva_C1L1L2_a, tuva_C1L1L2_b]],
  [[ckis_C1L1L5_a, ckis_C1L1L5_b], [mao0_C1L1L5_a, mao0_C1L1L5_b], [tuva_C1L1L5_a, tuva_C1L1L5_b]],
  [[ckis_C2L2L5_a, ckis_C2L2L5_b], [mao0_C2L2L5_a, mao0_C2L2L5_b], [tuva_C2L2L5_a, tuva_C2L2L5_b]],
  [[ckis_C2L2L1_a, ckis_C2L2L1_b], [mao0_C2L2L1_a, mao0_C2L2L1_b], [tuva_C2L2L1_a, tuva_C2L2L1_b]],
  [[ckis_C5L5L1_a, ckis_C5L5L1_b], [mao0_C5L5L1_a, mao0_C5L5L1_b], [tuva_C5L5L1_a, tuva_C5L5L1_b]],
  [[ckis_C5L5L2_a, ckis_C5L5L2_b], [mao0_C5L5L2_a, mao0_C5L5L2_b], [tuva_C5L5L2_a, tuva_C5L5L2_b]],
];
const panelExtra = [mao0Extra_C1L1L2, mao0Extra_C1L1L5, mao0Extra_C2L2L5,
  mao0Extra_C2L2L1, mao0Extra_C5L5L1, mao0Extra_C5L5L2];
const startHours = [ckisStartHour, mao0StartHour, tuvaStartHour];

const font = '"Liberation Sans", Arial, Helvetica, sans-serif';
const day = Date.UTC(2014, 5, 18);
const toDate = (h) => new Date(day + h * 3600e3);

const panelW = 484;
const panelH = 359;
const panelLeft = [108, 727.5, 1347];
const panelTop = [55, 546];
const markR = 2.8;
const markW = 2.2;

const x = d3.scaleUtc().domain([toDate(0), toDate(8)]).range([0, panelW]);
const y = d3.scaleLinear().domain([-16, 16]).range([panelH, 0]);
const xTicks = xTickHours.map(toDate);
const timeFmt = d3.utcFormat("%H:%M");

const svg = d3.select("#chart");

const styleAxis = (g) => {
  g.attr("font-family", font).attr("font-size", 23);
  g.select(".domain").remove();
  g.selectAll(".tick line").attr("stroke", "#000").attr("stroke-width", 1.3);
  g.selectAll(".tick text").attr("fill", "#000");
};

combos.forEach((combo, k) => {
  const col = k % 3;
  const row = Math.floor(k / 3);
  const g = svg
    .append("g")
    .attr("transform", `translate(${panelLeft[col]},${panelTop[row]})`);

  // yaw-bias period
  const x0 = x(toDate(yawBiasHours[0]));
  const x1 = x(toDate(yawBiasHours[1]));
  g.append("rect")
    .attr("x", x0)
    .attr("y", 0)
    .attr("width", x1 - x0)
    .attr("height", panelH)
    .attr("fill", "#d3d3d3");

  g.append("text")
    .attr("x", (x0 + x1) / 2)
    .attr("y", panelH - 10)
    .attr("text-anchor", "middle")
    .attr("font-size", 24)
    .text("\u221230\u00b0 yaw\u2212bias");

  // points: TUVA, CKIS, then MAO0 on top
  [2, 0, 1].forEach((s) => {
    const [a, b] = panelSeries[k][s];
    const pts = [];
    a.forEach((v, i) => pts.push({ t: startHours[s] + (i * stepMinutes) / 60, v: v }));
    b.forEach((v, i) => pts.push({ t: startHours[s] + (halfStepMinutes + i * stepMinutes) / 60, v: v }));
    pts.sort((p, q) => p.t - q.t);
    if (s === 1) panelExtra[k].forEach((e) => pts.push({ t: e[0], v: e[1] }));
    g.append("g")
      .selectAll("circle")
      .data(pts)
      .enter()
      .append("circle")
      .attr("cx", (d) => x(toDate(d.t)))
      .attr("cy", (d) => y(d.v))
      .attr("r", markR)
      .attr("fill", "#fff")
      .attr("stroke", stationColors[s])
      .attr("stroke-width", markW);
  });

  // legend
  const lg = g.append("g").attr("transform", "translate(338,18)");
  lg.append("rect")
    .attr("width", 126)
    .attr("height", 114)
    .attr("fill", "#fff")
    .attr("stroke", "#000")
    .attr("stroke-width", 3);
  stations.forEach((name, s) => {
    const ly = 26 + s * 32;
    lg.append("circle")
      .attr("cx", 25)
      .attr("cy", ly)
      .attr("r", markR)
      .attr("fill", "#fff")
      .attr("stroke", stationColors[s])
      .attr("stroke-width", markW);
    lg.append("text")
      .attr("x", 45)
      .attr("y", ly + 8.5)
      .attr("font-size", 24)
      .text(name);
  });

  // axes, ticks outward on all sides
  g.append("g")
    .attr("transform", `translate(0,${panelH})`)
    .call(d3.axisBottom(x).tickValues(xTicks).tickFormat(timeFmt).tickSize(9).tickPadding(16))
    .call(styleAxis);
  g.append("g")
    .call(d3.axisTop(x).tickValues(xTicks).tickFormat("").tickSize(9))
    .call(styleAxis);
  g.append("g")
    .call(
      d3.axisLeft(y).tickValues(yTicks).tickSize(9).tickPadding(15)
        .tickFormat(col === 0 ? d3.format("d") : "")
    )
    .call(styleAxis);
  const ra = g.append("g")
    .attr("transform", `translate(${panelW},0)`)
    .call(
      d3.axisRight(y).tickValues(yTicks).tickSize(9)
        .tickFormat(col === 2 ? d3.format("d") : "")
    )
    .call(styleAxis);
  ra.selectAll(".tick text").attr("x", 61).attr("text-anchor", "end");

  // frame
  g.append("rect")
    .attr("width", panelW)
    .attr("height", panelH)
    .attr("fill", "none")
    .attr("stroke", "#000")
    .attr("stroke-width", 3.2);

  g.append("text")
    .attr("x", panelW / 2)
    .attr("y", -25)
    .attr("text-anchor", "middle")
    .attr("font-size", 24)
    .text("Code\u2212carrier combination " + combo);

  if (col === 0 || col === 2) {
    const lx = col === 0 ? -78 : panelW + 96;
    g.append("text")
      .attr("transform", `translate(${lx},${panelH / 2}) rotate(-90)`)
      .attr("text-anchor", "middle")
      .attr("font-size", 23)
      .text("MP [m]");
  }

  if (row === 1) {
    g.append("text")
      .attr("x", panelW / 2)
      .attr("y", panelH + 72)
      .attr("text-anchor", "middle")
      .attr("font-size", 23)
      .text(dateLabel);
  }
});
</script>
</body>
</html>
